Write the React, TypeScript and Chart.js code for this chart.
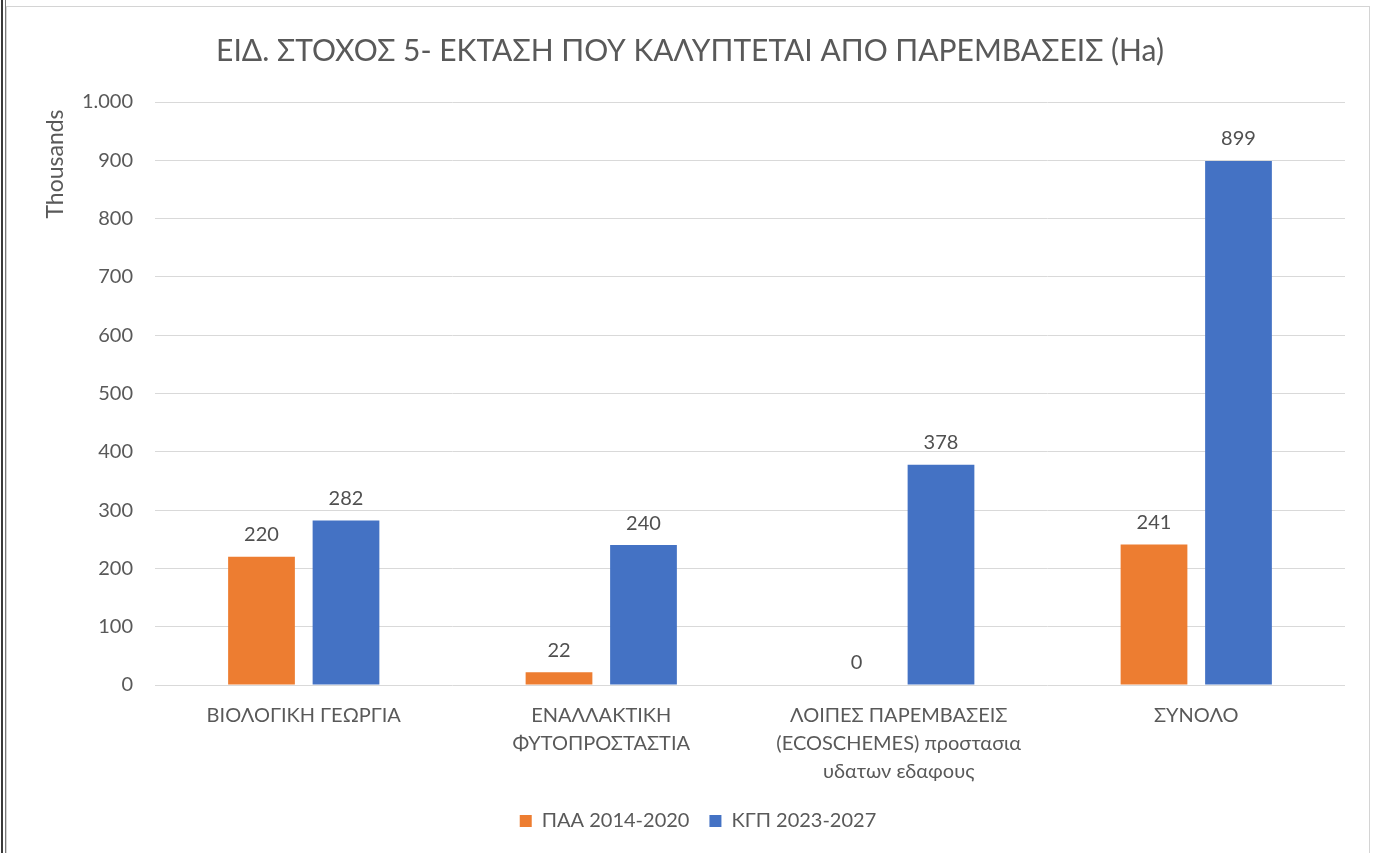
import React, { useEffect, useRef } from "react";
import { Chart, registerables } from "chart.js";

Chart.register(...registerables);

const TITLE = "ΕΙΔ. ΣΤΟΧΟΣ 5- ΕΚΤΑΣΗ ΠΟΥ ΚΑΛΥΠΤΕΤΑΙ ΑΠΟ ΠΑΡΕΜΒΑΣΕΙΣ (Ha)";
const UNITS_LABEL = "Thousands";
const categories: string[][] = [
  ["ΒΙΟΛΟΓΙΚΗ ΓΕΩΡΓΙΑ"],
  ["ΕΝΑΛΛΑΚΤΙΚΗ", "ΦΥΤΟΠΡΟΣΤΑΣΤΙΑ"],
  ["ΛΟΙΠΕΣ ΠΑΡΕΜΒΑΣΕΙΣ", "(ECOSCHEMES) προστασια", "υδατων εδαφους"],
  ["ΣΥΝΟΛΟ"],
];
const seriesNames = ["ΠΑΑ 2014-2020", "ΚΓΠ 2023-2027"];
const paaValues = [220, 22, 0, 241];
const kgpValues = [282, 240, 378, 899];
const seriesColors = ["#ED7D31", "#4472C4"];
const yMin = 0;
const yMax = 1000;
const yStep = 100;

const FONT = "Lato, 'Noto Sans', sans-serif";
const TEXT = "#595959";

const fmt = (v: number) =>
  v >= 1000 ? `${Math.floor(v / 1000)}.${String(v % 1000).padStart(3, "0")}` : String(v);

const extrasPlugin = {
  id: "extras",
  afterLayout(chart: any) {
    if (chart.legend) {
      chart.legend.left += 22;
      chart.legend.right += 22;
    }
  },
  afterDraw(chart: any) {
    const ctx = chart.ctx;
    ctx.save();
    // title
    ctx.fillStyle = TEXT;
    ctx.font = `30px ${FONT}`;
    ctx.textAlign = "center";
    ctx.textBaseline = "middle";
    ctx.fillText(TITLE, chart.width / 2 + 2, 44);
    // units label
    ctx.font = `23px ${FONT}`;
    ctx.translate(49, 157);
    ctx.rotate(-Math.PI / 2);
    ctx.fillText(UNITS_LABEL, 0, 0);
    ctx.restore();

    // data labels
    ctx.save();
    ctx.fillStyle = "#505050";
    ctx.font = `20px ${FONT}`;
    ctx.textAlign = "center";
    ctx.textBaseline = "bottom";
    chart.data.datasets.forEach((ds: any, i: number) => {
      const meta = chart.getDatasetMeta(i);
      meta.data.forEach((el: any, j: number) => {
        ctx.fillText(fmt(ds.data[j]), el.x, el.y - 12);
      });
    });
    ctx.restore();
  },
};

function App() {
  const ref = useRef<HTMLCanvasElement>(null);
  useEffect(() => {
    if (!ref.current) return;
    const chart = new Chart(ref.current, {
      type: "bar",
      data: {
        labels: categories,
        datasets: [
          {
            label: seriesNames[0],
            data: paaValues,
            backgroundColor: seriesColors[0],
            categoryPercentage: 0.568,
            barPercentage: 0.79,
          },
          {
            label: seriesNames[1],
            data: kgpValues,
            backgroundColor: seriesColors[1],
            categoryPercentage: 0.568,
            barPercentage: 0.79,
          },
        ],
      },
      options: {
        animation: false,
        responsive: false,
        layout: { padding: { top: 95, right: 24, left: 0, bottom: 12 } },
        plugins: {
          title: { display: false },
          tooltip: { enabled: false },
          legend: {
            position: "bottom",
            labels: {
              font: { family: FONT, size: 20 },
              color: TEXT,
              boxWidth: 12,
              boxHeight: 12,
              padding: 20,
            },
          },
        },
        scales: {
          x: {
            grid: { display: false },
            border: { display: false },
            ticks: {
              font: { family: FONT, size: 20, lineHeight: 1.4 },
              color: TEXT,
              padding: 9,
              maxRotation: 0,
              autoSkip: false,
            },
            afterFit(scale: any) {
              scale.height = 106;
            },
          },
          y: {
            min: yMin,
            max: yMax,
            grid: { color: "#d9d9d9", drawTicks: false, lineWidth: 1 },
            border: { display: false },
            ticks: {
              stepSize: yStep,
              font: { family: FONT, size: 20 },
              color: TEXT,
              padding: 22,
              callback: (v: any) => fmt(Number(v)),
            },
            afterFit(scale: any) {
              scale.width = 148;
            },
          },
        },
      },
      plugins: [extrasPlugin],
    });
    return () => chart.destroy();
  }, []);

  return (
    <div style={{ position: "fixed", left: 0, top: 0, width: 1376, height: 853, background: "#fff", overflow: "hidden" }}>
      <div style={{ position: "absolute", left: 1, top: 0, width: 2, height: 853, background: "#3a3a3a" }} />
      <div style={{ position: "absolute", left: 5, top: 0, width: 1, height: 853, background: "#7a7a7a" }} />
      <div
        style={{
          position: "absolute",
          left: 6,
          top: 6,
          width: 1364,
          height: 860,
          border: "1px solid #d4d4d4",
          boxSizing: "border-box",
        }}
      >
        <canvas ref={ref} width={1362} height={846} style={{ display: "block" }} />
      </div>
    </div>
  );
}

export default App;
